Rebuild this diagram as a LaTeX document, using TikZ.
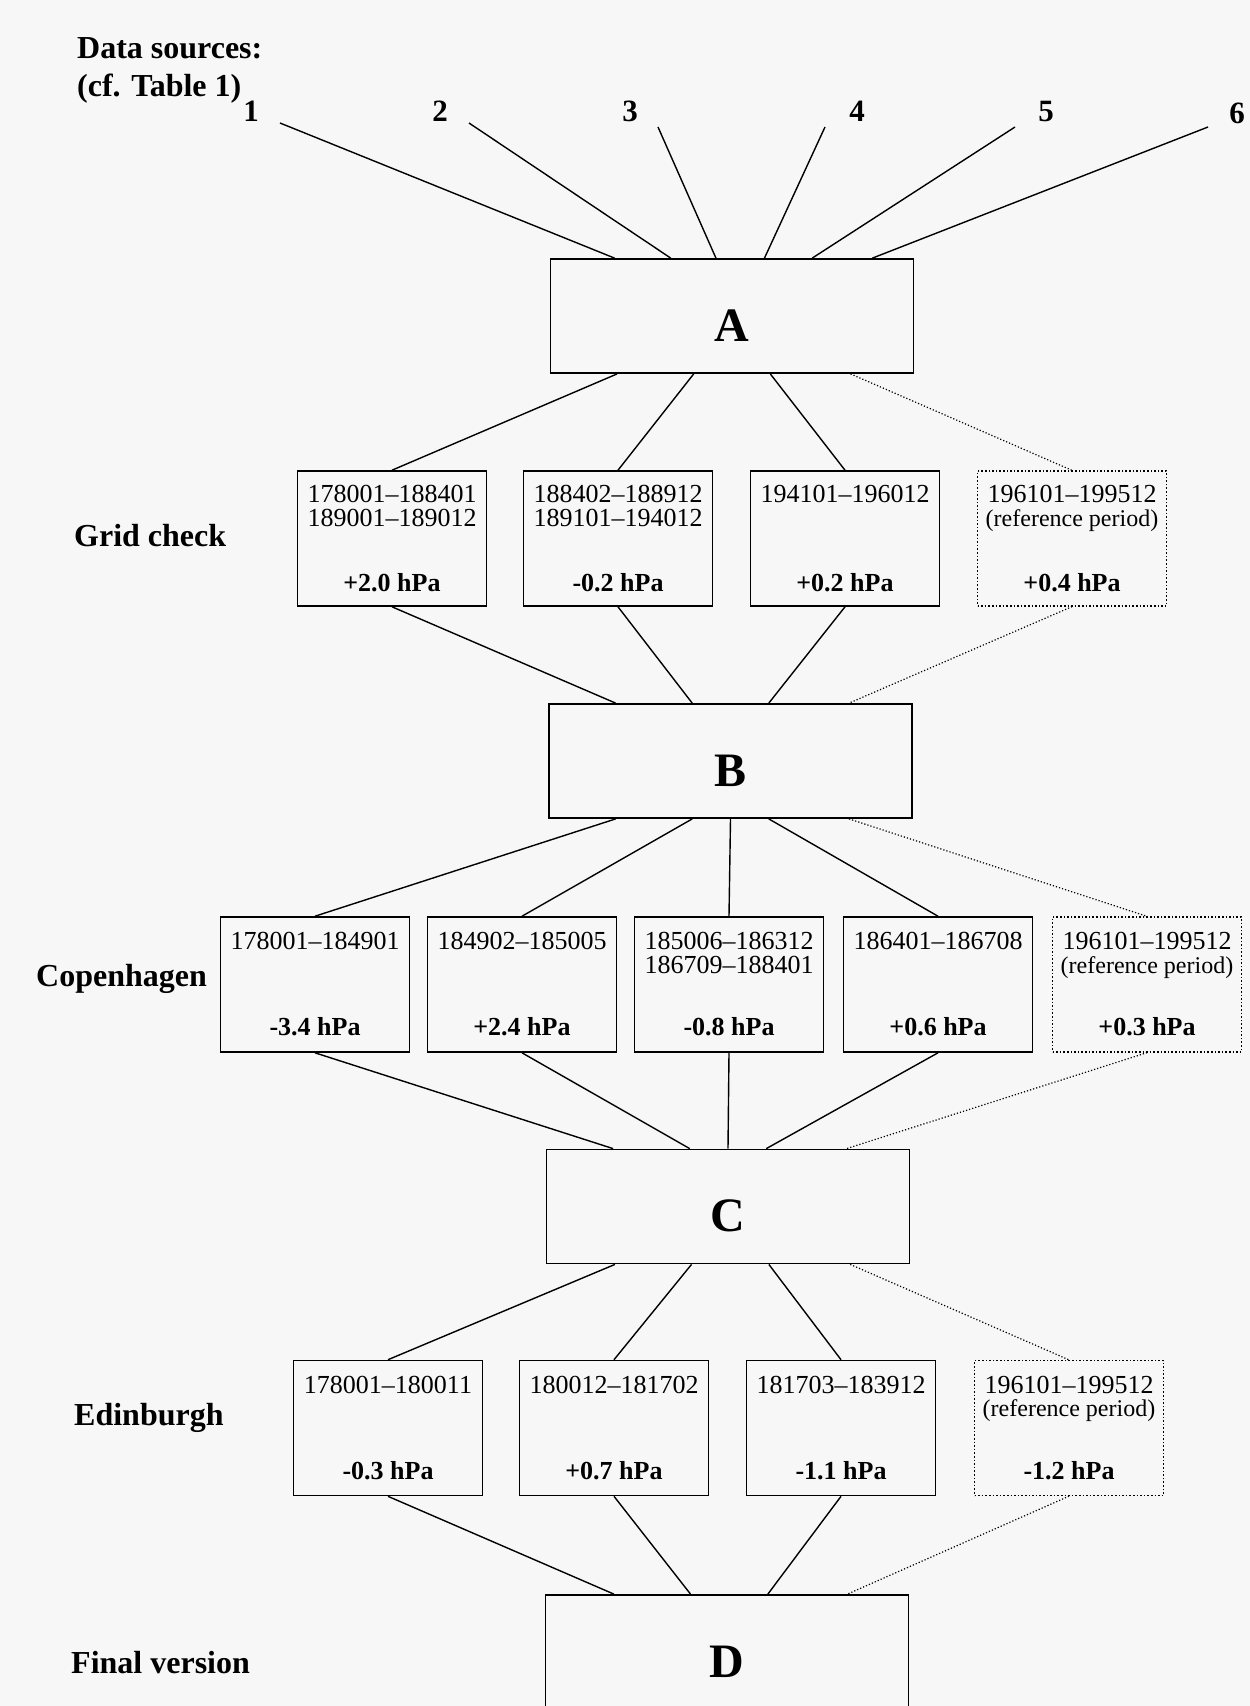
\documentclass[tikz,border=0pt]{standalone}
\usepackage{fontspec}
\setmainfont{Liberation Serif}
\usetikzlibrary{calc}
\begin{document}
\begin{tikzpicture}[x=1pt,y=-1pt,
  bigbox/.style={draw,line width=1.8pt,minimum width=363pt,minimum height=114pt,inner sep=0pt,text height=50pt,text depth=0pt,font=\fontsize{48}{50}\selectfont\bfseries},
  per/.style={draw,line width=1.6pt,minimum width=189pt,minimum height=135pt,inner sep=0pt},
  refper/.style={per,dotted,line width=1.3pt},
  ptxt/.style={font=\fontsize{26}{24}\selectfont,inner sep=0pt,align=center,anchor=north},
  rtxt/.style={font=\fontsize{24}{24}\selectfont,inner sep=0pt,align=center,anchor=north},
  vtxt/.style={font=\fontsize{26}{30}\selectfont\bfseries,inner sep=0pt},
  rowlab/.style={font=\fontsize{32}{34}\selectfont\bfseries,anchor=mid west,inner sep=0pt},
  srcnum/.style={font=\fontsize{31}{34}\selectfont\bfseries,inner sep=0pt},
  link/.style={line width=1.4pt},
  reflink/.style={line width=1.2pt,dotted}]
\fill[black!3] (0,0) rectangle (1250,1706);
\useasboundingbox (0,0) rectangle (1250,1706);
\clip (0,0) rectangle (1250,1706);

% header
\node[rowlab] (hd1) at (77,56) {Data sources:};
\node[rowlab] (hd2) at (77,94) {(cf. Table 1)};
\node[srcnum] (n1) at (251,111) {1};
\node[srcnum] (n2) at (440,111) {2};
\node[srcnum] (n3) at (630,111) {3};
\node[srcnum] (n4) at (857,111) {4};
\node[srcnum] (n5) at (1046,111) {5};
\node[srcnum] (n6) at (1237,113) {6};
\coordinate (s1) at (280,123);
\coordinate (s2) at (469,123);
\coordinate (s3) at (658,127);
\coordinate (s4) at (825,127);
\coordinate (s5) at (1015,127);
\coordinate (s6) at (1208,127);

% big boxes
\node[bigbox] (A) at (732,316) {A};
\node[bigbox] (B) at (730.5,761) {B};
\node[bigbox] (C) at (728,1206.5) {C};
\node[bigbox] (D) at (727,1652) {D};

% source lines
\foreach \s/\f in {1/0.178,2/0.332,3/0.456,4/0.589,5/0.72,6/0.885}
  \draw[link] (s\s) -- ($(A.north west)!\f!(A.north east)$);

% row labels
\node[rowlab] (lg) at (74,544) {Grid check};
\node[rowlab] (lc) at (36,984) {Copenhagen};
\node[rowlab] (le) at (74,1423) {Edinburgh};
\node[rowlab] (lf) at (71,1671) {Final version};

% Grid check row
\node[per] (g1) at (392,538.5) {};
\node[per] (g2) at (618,538.5) {};
\node[per] (g3) at (845,538.5) {};
\node[refper] (g4) at (1072,538.5) {};
\node[ptxt] at ($(g1.north)+(0,15)$) {178001–188401\\189001–189012};
\node[ptxt] at ($(g2.north)+(0,15)$) {188402–188912\\189101–194012};
\node[ptxt] at ($(g3.north)+(0,15)$) {194101–196012};
\node[ptxt] at ($(g4.north)+(0,15)$) {196101–199512};
\node[rtxt] at ($(g4.north)+(0,39)$) {(reference period)};
\node[vtxt] at ($(g1.south)+(0,-24)$) {+2.0 hPa};
\node[vtxt] at ($(g2.south)+(0,-24)$) {-0.2 hPa};
\node[vtxt] at ($(g3.south)+(0,-24)$) {+0.2 hPa};
\node[vtxt] at ($(g4.south)+(0,-24)$) {+0.4 hPa};

% Copenhagen row
\node[per] (c1) at (315,984.5) {};
\node[per] (c2) at (522,984.5) {};
\node[per] (c3) at (729,984.5) {};
\node[per] (c4) at (938,984.5) {};
\node[refper] (c5) at (1147,984.5) {};
\node[ptxt] at ($(c1.north)+(0,16)$) {178001–184901};
\node[ptxt] at ($(c2.north)+(0,16)$) {184902–185005};
\node[ptxt] at ($(c3.north)+(0,16)$) {185006–186312\\186709–188401};
\node[ptxt] at ($(c4.north)+(0,16)$) {186401–186708};
\node[ptxt] at ($(c5.north)+(0,16)$) {196101–199512};
\node[rtxt] at ($(c5.north)+(0,40)$) {(reference period)};
\node[vtxt] at ($(c1.south)+(0,-26)$) {-3.4 hPa};
\node[vtxt] at ($(c2.south)+(0,-26)$) {+2.4 hPa};
\node[vtxt] at ($(c3.south)+(0,-26)$) {-0.8 hPa};
\node[vtxt] at ($(c4.south)+(0,-26)$) {+0.6 hPa};
\node[vtxt] at ($(c5.south)+(0,-26)$) {+0.3 hPa};

% Edinburgh row
\node[per] (e1) at (388,1428) {};
\node[per] (e2) at (614,1428) {};
\node[per] (e3) at (841,1428) {};
\node[refper] (e4) at (1069,1428) {};
\node[ptxt] at ($(e1.north)+(0,16)$) {178001–180011};
\node[ptxt] at ($(e2.north)+(0,16)$) {180012–181702};
\node[ptxt] at ($(e3.north)+(0,16)$) {181703–183912};
\node[ptxt] at ($(e4.north)+(0,16)$) {196101–199512};
\node[rtxt] at ($(e4.north)+(0,40)$) {(reference period)};
\node[vtxt] at ($(e1.south)+(0,-26)$) {-0.3 hPa};
\node[vtxt] at ($(e2.south)+(0,-26)$) {+0.7 hPa};
\node[vtxt] at ($(e3.south)+(0,-26)$) {-1.1 hPa};
\node[vtxt] at ($(e4.south)+(0,-26)$) {-1.2 hPa};

% A -> grid -> B
\foreach \b/\f in {g1/0.185,g2/0.395,g3/0.605}{
  \draw[link] ($(A.south west)!\f!(A.south east)$) -- (\b.north);
  \draw[link] (\b.south) -- ($(B.north west)!\f!(B.north east)$);
}
\draw[reflink] ($(A.south west)!0.825!(A.south east)$) -- (g4.north);
\draw[reflink] (g4.south) -- ($(B.north west)!0.825!(B.north east)$);

% B -> Copenhagen -> C
\foreach \b/\f in {c1/0.185,c2/0.395,c3/0.5,c4/0.605}{
  \draw[link] ($(B.south west)!\f!(B.south east)$) -- (\b.north);
  \draw[link] (\b.south) -- ($(C.north west)!\f!(C.north east)$);
}
\draw[reflink] ($(B.south west)!0.825!(B.south east)$) -- (c5.north);
\draw[reflink] (c5.south) -- ($(C.north west)!0.825!(C.north east)$);

% C -> Edinburgh -> D
\foreach \b/\f in {e1/0.19,e2/0.40,e3/0.612}{
  \draw[link] ($(C.south west)!\f!(C.south east)$) -- (\b.north);
  \draw[link] (\b.south) -- ($(D.north west)!\f!(D.north east)$);
}
\draw[reflink] ($(C.south west)!0.835!(C.south east)$) -- (e4.north);
\draw[reflink] (e4.south) -- ($(D.north west)!0.83!(D.north east)$);
\end{tikzpicture}
\end{document}
